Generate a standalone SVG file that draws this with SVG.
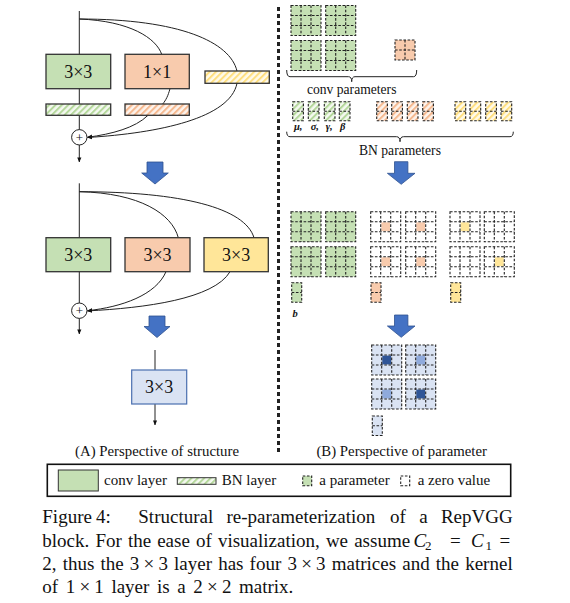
<svg xmlns="http://www.w3.org/2000/svg" xmlns:xlink="http://www.w3.org/1999/xlink" width="570" height="603" viewBox="0 0 570 603">
<style>
text{font-family:"Liberation Serif","Times New Roman",serif;fill:#111}
.box{stroke:#333;stroke-width:1.3}
.ln{fill:none;stroke:#222;stroke-width:1}
.dash{stroke:#222;stroke-width:1.1;stroke-dasharray:2.6 1.6}
.blue{fill:#4472c4;stroke:#2f528f;stroke-width:0.8}
.lbl{font-size:18px;text-anchor:middle}
.cap{font-size:19px}
.leg{font-size:15px}
.bi{font-weight:bold;font-style:italic;font-size:10.5px}
</style>
<defs>
<pattern id="hg" width="4.5" height="4.5" patternUnits="userSpaceOnUse" patternTransform="rotate(45)"><rect width="4.5" height="4.5" fill="#f4f9f0"/><rect width="2" height="4.5" fill="#b5d89c"/></pattern>
<pattern id="ho" width="4.5" height="4.5" patternUnits="userSpaceOnUse" patternTransform="rotate(45)"><rect width="4.5" height="4.5" fill="#fdf3ec"/><rect width="2" height="4.5" fill="#f5b990"/></pattern>
<pattern id="hy" width="4.5" height="4.5" patternUnits="userSpaceOnUse" patternTransform="rotate(45)"><rect width="4.5" height="4.5" fill="#fffaea"/><rect width="2" height="4.5" fill="#ffdf80"/></pattern>
<marker id="ah" viewBox="0 0 6 6" refX="5.5" refY="3" markerWidth="5" markerHeight="5" orient="auto" markerUnits="userSpaceOnUse"><path d="M0,0.5 L6,3 L0,5.5 Z" fill="#111"/></marker>
<g id="m3"><rect width="30" height="30" class="dash"/><path d="M10,0V30M20,0V30M0,10H30M0,20H30" fill="none" class="dash"/></g>
<g id="m2"><rect width="20" height="20" class="dash"/><path d="M10,0V20M0,10H20" fill="none" class="dash"/></g>
<g id="v2"><rect width="10" height="19.5" class="dash"/><path d="M0,9.75H10" fill="none" class="dash"/></g>
<g id="v2b"><rect width="10.7" height="19" class="dash"/><path d="M0,9.5H10.7" fill="none" class="dash"/></g>
</defs>

<!-- divider -->
<path d="M278.5,7V455" stroke="#222" stroke-width="3" stroke-dasharray="4 3" fill="none"/>

<g id="connectors">
<path class="ln" d="M79.3,11V162" marker-end="url(#ah)"/>
<path class="ln" d="M79.3,19 C130,21 156,38 161.7,54.3"/>
<path class="ln" d="M79.3,19 C180,19 230,42 237,71"/>
<path class="ln" d="M170,88.7 C168,96 166,100 162.7,104"/>
<path class="ln" d="M148,115.3 C135,128 112,134 87.5,137.3" marker-end="url(#ah)"/>
<path class="ln" d="M237,83.3 C230,118 160,133 87.5,137.5" marker-end="url(#ah)"/>
<path class="ln" d="M79.3,183.3V334" marker-end="url(#ah)"/>
<path class="ln" d="M79.3,191.7 C140,193 172,214 178.3,237.7"/>
<path class="ln" d="M79.3,191.7 C182,191.7 245,208 254,237.7"/>
<path class="ln" d="M166,271.7 C156,295 122,307 87.5,310.7" marker-end="url(#ah)"/>
<path class="ln" d="M230,271.7 C214,299 145,308 87.5,310.9" marker-end="url(#ah)"/>
<path class="ln" d="M155,350V370"/>
<path class="ln" d="M155,404V425" marker-end="url(#ah)"/>
</g>

<g id="conv3x3-a"><rect class="box" x="46" y="54.3" width="64.7" height="34.4" fill="#c5e0b4"/><text class="lbl" x="78.3" y="77.8">3×3</text></g>
<g id="conv1x1-a"><rect class="box" x="125" y="54.3" width="64.3" height="34.4" fill="#f8cbad"/><text class="lbl" x="157.2" y="77.8">1×1</text></g>
<g id="bn-id-a"><rect class="box" x="205" y="71" width="64.3" height="12.3" fill="url(#hy)"/></g>
<g id="bn-3x3-a"><rect class="box" x="46" y="104" width="64.7" height="11.3" fill="url(#hg)"/></g>
<g id="bn-1x1-a"><rect class="box" x="125" y="104" width="64.3" height="11.3" fill="url(#ho)"/></g>
<g id="add-a"><circle cx="79.3" cy="137.3" r="7.7" fill="#fff" stroke="#222" stroke-width="1"/><text x="79.3" y="141.8" font-size="13" text-anchor="middle">+</text></g>

<g id="arrow-1"><path class="blue" d="M147,162H163V173H168.3L155,184L141.7,173H147Z"/></g>

<g id="conv3x3-b"><rect class="box" x="46" y="237.7" width="64.7" height="34" fill="#c5e0b4"/><text class="lbl" x="78.3" y="261">3×3</text></g>
<g id="conv1x1-b"><rect class="box" x="125" y="237.7" width="65" height="34" fill="#f8cbad"/><text class="lbl" x="157.5" y="261">3×3</text></g>
<g id="id-b"><rect class="box" x="204" y="237.7" width="64.3" height="34" fill="#ffe699"/><text class="lbl" x="236.2" y="261">3×3</text></g>
<g id="add-b"><circle cx="79.3" cy="310.7" r="7.7" fill="#fff" stroke="#222" stroke-width="1"/><text x="79.3" y="315.2" font-size="13" text-anchor="middle">+</text></g>

<g id="arrow-2"><path class="blue" d="M149,316H165V326.5H170L157,337.5L144,326.5H149Z"/></g>

<g id="conv3x3-c"><rect x="131.7" y="370" width="55" height="34" fill="#dae3f3" stroke="#4a6fb0" stroke-width="1.2"/><text class="lbl" x="159.2" y="393.3">3×3</text></g>

<text x="157" y="456" font-size="14.8" text-anchor="middle">(A) Perspective of structure</text>

<!-- right: conv parameters -->
<g id="conv-params">
<use href="#m3" x="291" y="5.5" fill="#c5e0b4"/>
<use href="#m3" x="325.7" y="5.5" fill="#c5e0b4"/>
<use href="#m3" x="291" y="40.5" fill="#c5e0b4"/>
<use href="#m3" x="325.7" y="40.5" fill="#c5e0b4"/>
<use href="#m2" x="395" y="40" fill="#f8cbad"/>
<path class="ln" stroke-width="1.3" d="M286.7,70 Q286.7,76.7 290,76.7 H348.5 Q351.7,76.7 351.7,81.7 Q351.7,76.7 355,76.7 H413.5 Q416.7,76.7 416.7,70"/>
<text x="351.7" y="93.5" font-size="13.6" text-anchor="middle">conv parameters</text>
</g>

<g id="bn-params">
<use href="#v2b" x="292.7" y="101.7" fill="url(#hg)"/>
<use href="#v2b" x="308.3" y="101.7" fill="url(#hg)"/>
<use href="#v2b" x="324.3" y="101.7" fill="url(#hg)"/>
<use href="#v2b" x="339.3" y="101.7" fill="url(#hg)"/>
<use href="#v2b" x="376.7" y="101.7" fill="url(#ho)"/>
<use href="#v2b" x="391.7" y="101.7" fill="url(#ho)"/>
<use href="#v2b" x="407.3" y="101.7" fill="url(#ho)"/>
<use href="#v2b" x="422.7" y="101.7" fill="url(#ho)"/>
<use href="#v2b" x="455" y="101.7" fill="url(#hy)"/>
<use href="#v2b" x="470" y="101.7" fill="url(#hy)"/>
<use href="#v2b" x="485.7" y="101.7" fill="url(#hy)"/>
<use href="#v2b" x="501" y="101.7" fill="url(#hy)"/>
<text class="bi" y="130"><tspan x="294">μ,</tspan><tspan x="310.7">σ,</tspan><tspan x="325.7">γ,</tspan><tspan x="340">β</tspan></text>
<path class="ln" stroke-width="1.3" d="M286.7,131.7 Q286.7,136.7 290,136.7 H396.5 Q400,136.7 400,141.7 Q400,136.7 403.5,136.7 H510 Q513.3,136.7 513.3,131.7"/>
<text x="400" y="155.3" font-size="13.6" text-anchor="middle">BN parameters</text>
</g>

<g id="arrow-3"><path class="blue" d="M394.5,161.7H407.9V173.3H415L401.2,184.3L387.4,173.3H394.5Z"/></g>

<g id="fused-params">
<use href="#m3" x="291" y="211.7" fill="#c5e0b4"/>
<use href="#m3" x="325.7" y="211.7" fill="#c5e0b4"/>
<use href="#m3" x="291" y="246.7" fill="#c5e0b4"/>
<use href="#m3" x="325.7" y="246.7" fill="#c5e0b4"/>
<rect x="381.3" y="222.3" width="8.8" height="8.8" fill="#f8cbad"/>
<rect x="416.3" y="222.3" width="8.8" height="8.8" fill="#f8cbad"/>
<rect x="381.3" y="257.3" width="8.8" height="8.8" fill="#f8cbad"/>
<rect x="416.3" y="257.3" width="8.8" height="8.8" fill="#f8cbad"/>
<rect x="460.6" y="222.3" width="8.8" height="8.8" fill="#ffe699"/>
<rect x="494.9" y="257.3" width="8.8" height="8.8" fill="#ffe699"/>
<use href="#m3" x="370.7" y="211.7" fill="none"/>
<use href="#m3" x="405.7" y="211.7" fill="none"/>
<use href="#m3" x="370.7" y="246.7" fill="none"/>
<use href="#m3" x="405.7" y="246.7" fill="none"/>
<use href="#m3" x="450" y="211.7" fill="none"/>
<use href="#m3" x="484.3" y="211.7" fill="none"/>
<use href="#m3" x="450" y="246.7" fill="none"/>
<use href="#m3" x="484.3" y="246.7" fill="none"/>
<use href="#v2" x="291.7" y="282.7" fill="#c5e0b4"/>
<use href="#v2" x="371" y="282.7" fill="#f8cbad"/>
<use href="#v2" x="450.7" y="282.7" fill="#ffe699"/>
<text class="bi" x="292.5" y="317">b</text>
</g>

<g id="arrow-4"><path class="blue" d="M394.5,315H407.9V326H415L401.2,337.3L387.4,326H394.5Z"/></g>

<g id="final-params">
<rect x="371.7" y="345" width="30" height="30" fill="#dae3f3"/>
<rect x="405.7" y="345" width="30" height="30" fill="#dae3f3"/>
<rect x="371.7" y="379" width="30" height="30" fill="#dae3f3"/>
<rect x="405.7" y="379" width="30" height="30" fill="#dae3f3"/>
<rect x="382.3" y="355.6" width="8.8" height="8.8" fill="#2f5597"/>
<rect x="416.3" y="355.6" width="8.8" height="8.8" fill="#8faadc"/>
<rect x="382.3" y="389.6" width="8.8" height="8.8" fill="#8faadc"/>
<rect x="416.3" y="389.6" width="8.8" height="8.8" fill="#2f5597"/>
<use href="#m3" x="371.7" y="345" fill="none"/>
<use href="#m3" x="405.7" y="345" fill="none"/>
<use href="#m3" x="371.7" y="379" fill="none"/>
<use href="#m3" x="405.7" y="379" fill="none"/>
<use href="#v2" x="372.3" y="416" fill="#dae3f3"/>
</g>

<text x="401.7" y="456" font-size="14.8" text-anchor="middle">(B) Perspective of parameter</text>

<g id="legend">
<rect x="47.3" y="464.3" width="463.4" height="32" fill="#fff" stroke="#111" stroke-width="1.6"/>
<rect x="58.3" y="470" width="40" height="21" fill="#c5e0b4" stroke="#333" stroke-width="1"/>
<text class="leg" x="104" y="485">conv layer</text>
<rect x="177.3" y="477.7" width="38.7" height="6.6" fill="url(#hg)" stroke="#333" stroke-width="1"/>
<text class="leg" x="221.7" y="485">BN layer</text>
<rect x="302.7" y="476" width="9" height="9.7" fill="#c5e0b4" class="dash"/>
<text class="leg" x="319.3" y="485">a parameter</text>
<rect x="400.7" y="476" width="9" height="9.7" fill="#fff" class="dash"/>
<text class="leg" x="417.7" y="485">a zero value</text>
</g>

<g id="caption">
<text class="cap" y="523.3"><tspan x="42.3">Figure</tspan><tspan x="96">4:</tspan><tspan x="138.3">Structural</tspan><tspan x="226.5">re-parameterization</tspan><tspan x="390.1">of</tspan><tspan x="419.2">a</tspan><tspan x="440.9">RepVGG</tspan></text>
<text class="cap" y="546.7"><tspan x="42.3">block.</tspan><tspan x="95.4">For</tspan><tspan x="127.9">the</tspan><tspan x="157.2">ease</tspan><tspan x="196">of</tspan><tspan x="217.9">visualization,</tspan><tspan x="325.9">we</tspan><tspan x="354.2">assume</tspan><tspan x="413.5" font-style="italic">C</tspan><tspan x="425" y="550" font-size="13">2</tspan><tspan x="450" y="546.7">=</tspan><tspan x="471" font-style="italic">C</tspan><tspan x="485.5" y="550" font-size="13">1</tspan><tspan x="499.5" y="546.7">=</tspan></text>
<text class="cap" y="570"><tspan x="42.3">2,</tspan><tspan x="62.7">thus</tspan><tspan x="100.5">the</tspan><tspan x="129.8">3</tspan><tspan x="143.5">×</tspan><tspan x="158.4">3</tspan><tspan x="174">layer</tspan><tspan x="218.2">has</tspan><tspan x="249.6">four</tspan><tspan x="287.5">3</tspan><tspan x="301.2">×</tspan><tspan x="316.1">3</tspan><tspan x="331.7">matrices</tspan><tspan x="402.3">and</tspan><tspan x="435.8">the</tspan><tspan x="465.2">kernel</tspan></text>
<text class="cap" y="593.3"><tspan x="42.3">of</tspan><tspan x="65.7">1</tspan><tspan x="79.4">×</tspan><tspan x="94.3">1</tspan><tspan x="111.4">layer</tspan><tspan x="157">is</tspan><tspan x="177.3">a</tspan><tspan x="193.3">2</tspan><tspan x="207">×</tspan><tspan x="221.9">2</tspan><tspan x="239">matrix.</tspan></text>
</g>
</svg>
